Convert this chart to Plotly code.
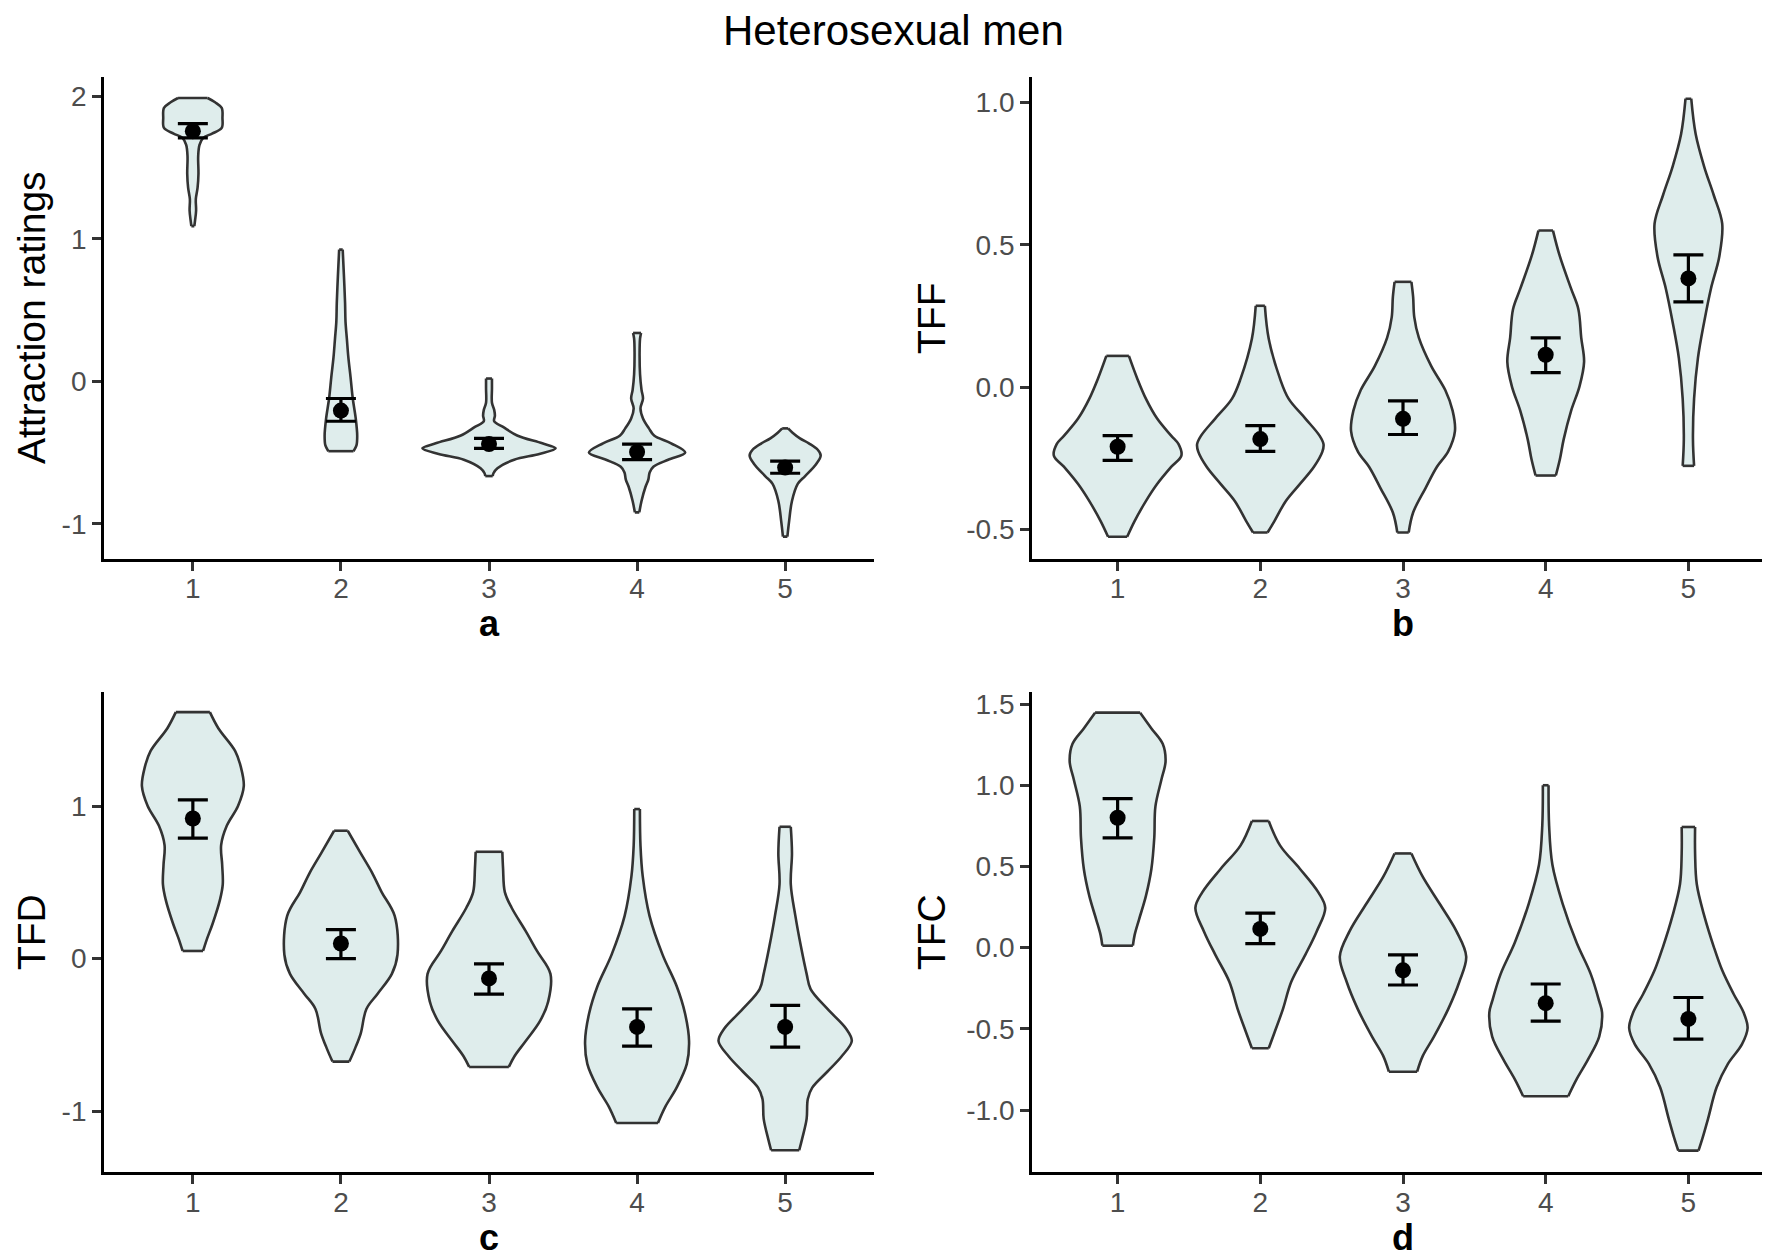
import plotly.graph_objects as go

# ---------------- data ----------------
CATS = [1, 2, 3, 4, 5]
CAT_LABELS = ["1", "2", "3", "4", "5"]

TITLE = "Heterosexual men"
PANEL_LETTERS = ["a", "b", "c", "d"]
Y_TITLES = ["Attraction ratings", "TFF", "TFD", "TFC"]

A_TICKS = [-1, 0, 1, 2]
A_TICKTEXT = ["-1", "0", "1", "2"]
B_TICKS = [-0.5, 0.0, 0.5, 1.0]
B_TICKTEXT = ["-0.5", "0.0", "0.5", "1.0"]
C_TICKS = [-1, 0, 1]
C_TICKTEXT = ["-1", "0", "1"]
D_TICKS = [-1.0, -0.5, 0.0, 0.5, 1.0, 1.5]
D_TICKTEXT = ["-1.0", "-0.5", "0.0", "0.5", "1.0", "1.5"]

# means and standard-error limits
A_MEAN = [1.757, -0.205, -0.44, -0.496, -0.605]
A_LO = [1.71, -0.28, -0.47, -0.55, -0.645]
A_HI = [1.81, -0.12, -0.40, -0.44, -0.56]

B_MEAN = [-0.209, -0.182, -0.111, 0.114, 0.382]
B_LO = [-0.257, -0.225, -0.166, 0.051, 0.30]
B_HI = [-0.17, -0.135, -0.048, 0.173, 0.465]

C_MEAN = [0.918, 0.099, -0.13, -0.448, -0.448]
C_LO = [0.79, 0.0, -0.233, -0.573, -0.58]
C_HI = [1.04, 0.19, -0.035, -0.33, -0.307]

D_MEAN = [0.80, 0.115, -0.14, -0.342, -0.439]
D_LO = [0.676, 0.025, -0.23, -0.452, -0.563]
D_HI = [0.918, 0.212, -0.044, -0.224, -0.307]

# violin density profiles: levels (top -> bottom) and half-widths (category units)
A_LEVELS = [
    [1.99, 1.96, 1.92, 1.85, 1.78, 1.74, 1.71, 1.66, 1.58, 1.46, 1.36, 1.28, 1.20, 1.13, 1.09],
    [0.925, 0.75, 0.55, 0.42, 0.30, 0.17, 0.03, -0.12, -0.26, -0.38, -0.45, -0.49],
    [0.02, -0.05, -0.15, -0.20, -0.24, -0.28, -0.32, -0.38, -0.435, -0.47, -0.51, -0.55, -0.61, -0.645, -0.665],
    [0.34, 0.30, 0.20, 0.05, -0.06, -0.12, -0.19, -0.26, -0.33, -0.38, -0.435, -0.50, -0.55, -0.60, -0.64, -0.69, -0.74, -0.84, -0.92],
    [-0.33, -0.36, -0.40, -0.435, -0.48, -0.52, -0.58, -0.665, -0.72, -0.84, -0.98, -1.09],
]
A_WIDTHS = [
    [0.10, 0.15, 0.195, 0.20, 0.195, 0.13, 0.07, 0.045, 0.036, 0.038, 0.032, 0.02, 0.022, 0.015, 0.01],
    [0.012, 0.02, 0.028, 0.031, 0.04, 0.05, 0.065, 0.08, 0.10, 0.11, 0.105, 0.085],
    [0.02, 0.02, 0.02, 0.035, 0.04, 0.035, 0.095, 0.19, 0.36, 0.45, 0.34, 0.17, 0.057, 0.03, 0.025],
    [0.027, 0.02, 0.017, 0.02, 0.03, 0.04, 0.023, 0.04, 0.08, 0.115, 0.23, 0.325, 0.21, 0.11, 0.085, 0.076, 0.057, 0.03, 0.015],
    [0.02, 0.05, 0.10, 0.16, 0.22, 0.24, 0.21, 0.135, 0.085, 0.046, 0.027, 0.015],
]

B_LEVELS = [
    [0.11, 0.03, -0.04, -0.11, -0.17, -0.20, -0.24, -0.28, -0.34, -0.40, -0.47, -0.525],
    [0.286, 0.17, 0.03, -0.04, -0.11, -0.17, -0.20, -0.226, -0.28, -0.34, -0.40, -0.47, -0.51],
    [0.37, 0.317, 0.246, 0.174, 0.074, -0.01, -0.083, -0.154, -0.226, -0.28, -0.354, -0.44, -0.51],
    [0.55, 0.46, 0.346, 0.274, 0.174, 0.089, 0.003, -0.083, -0.183, -0.254, -0.31],
    [1.013, 0.889, 0.774, 0.674, 0.574, 0.46, 0.346, 0.23, 0.103, -0.04, -0.183, -0.276],
]
B_WIDTHS = [
    [0.079, 0.138, 0.198, 0.277, 0.375, 0.427, 0.447, 0.375, 0.277, 0.198, 0.119, 0.067],
    [0.032, 0.059, 0.138, 0.198, 0.316, 0.415, 0.443, 0.435, 0.375, 0.277, 0.178, 0.099, 0.051],
    [0.059, 0.071, 0.079, 0.111, 0.198, 0.296, 0.348, 0.364, 0.316, 0.237, 0.158, 0.071, 0.04],
    [0.051, 0.099, 0.178, 0.229, 0.249, 0.269, 0.237, 0.178, 0.126, 0.099, 0.071],
    [0.02, 0.051, 0.111, 0.178, 0.237, 0.217, 0.158, 0.111, 0.067, 0.04, 0.032, 0.04],
]

C_LEVELS = [
    [1.615, 1.51, 1.36, 1.256, 1.13, 1.0, 0.87, 0.744, 0.615, 0.487, 0.385, 0.23, 0.128, 0.05],
    [0.838, 0.69, 0.564, 0.436, 0.28, 0.026, -0.1, -0.23, -0.33, -0.49, -0.59, -0.675],
    [0.70, 0.59, 0.436, 0.333, 0.18, 0.05, -0.1, -0.28, -0.41, -0.54, -0.64, -0.71],
    [0.98, 0.74, 0.54, 0.28, 0.026, -0.18, -0.36, -0.54, -0.69, -0.846, -0.97, -1.077],
    [0.864, 0.69, 0.487, 0.28, 0.077, -0.1, -0.2, -0.33, -0.46, -0.54, -0.64, -0.74, -0.846, -0.92, -1.05, -1.18, -1.256],
]
C_WIDTHS = [
    [0.115, 0.172, 0.286, 0.324, 0.344, 0.305, 0.229, 0.191, 0.198, 0.202, 0.183, 0.134, 0.095, 0.069],
    [0.046, 0.134, 0.21, 0.275, 0.363, 0.382, 0.344, 0.248, 0.172, 0.134, 0.095, 0.057],
    [0.09, 0.095, 0.107, 0.153, 0.248, 0.324, 0.415, 0.40, 0.344, 0.248, 0.172, 0.134],
    [0.019, 0.023, 0.038, 0.084, 0.172, 0.267, 0.324, 0.351, 0.336, 0.267, 0.191, 0.141],
    [0.038, 0.046, 0.038, 0.069, 0.107, 0.145, 0.172, 0.286, 0.412, 0.45, 0.382, 0.286, 0.183, 0.153, 0.145, 0.115, 0.095],
]

D_LEVELS = [
    [1.447, 1.35, 1.255, 1.147, 1.038, 0.87, 0.678, 0.486, 0.317, 0.173, 0.077, 0.012],
    [0.78, 0.63, 0.486, 0.34, 0.245, 0.10, -0.043, -0.21, -0.38, -0.524, -0.62],
    [0.58, 0.437, 0.27, 0.10, -0.055, -0.21, -0.38, -0.548, -0.668, -0.764],
    [1.0, 0.75, 0.51, 0.27, 0.03, -0.163, -0.33, -0.40, -0.548, -0.69, -0.81, -0.915],
    [0.743, 0.58, 0.39, 0.197, 0.005, -0.14, -0.284, -0.40, -0.495, -0.596, -0.716, -0.86, -1.053, -1.173, -1.25],
]
D_WIDTHS = [
    [0.158, 0.237, 0.316, 0.336, 0.308, 0.265, 0.257, 0.237, 0.198, 0.15, 0.119, 0.107],
    [0.059, 0.138, 0.277, 0.407, 0.455, 0.395, 0.316, 0.217, 0.158, 0.099, 0.059],
    [0.059, 0.138, 0.257, 0.375, 0.443, 0.395, 0.316, 0.217, 0.138, 0.099],
    [0.02, 0.024, 0.047, 0.119, 0.217, 0.316, 0.375, 0.395, 0.375, 0.296, 0.217, 0.158],
    [0.047, 0.047, 0.059, 0.111, 0.178, 0.237, 0.316, 0.387, 0.415, 0.375, 0.277, 0.198, 0.138, 0.099, 0.071],
]

# ---------------- style ----------------
FONT = "Liberation Sans, Arial, Helvetica, sans-serif"
FILL = "#DFEDEC"
OUTLINE = "#333333"
TICK_GREY = "#4D4D4D"

W, H = 1770, 1255
# panel boxes in pixels (left, right, top, bottom)
BOXES = [
    (96, 866, 66.5, 549),
    (1024, 1766, 66.5, 549),
    (96, 866, 682.5, 1164),
    (1024, 1766, 682.5, 1164),
]
Y_RANGES = [[-1.245, 2.135], [-0.602, 1.088], [-1.40, 1.748], [-1.383, 1.575]]

panels = [
    (A_LEVELS, A_WIDTHS, A_MEAN, A_LO, A_HI, A_TICKS, A_TICKTEXT),
    (B_LEVELS, B_WIDTHS, B_MEAN, B_LO, B_HI, B_TICKS, B_TICKTEXT),
    (C_LEVELS, C_WIDTHS, C_MEAN, C_LO, C_HI, C_TICKS, C_TICKTEXT),
    (D_LEVELS, D_WIDTHS, D_MEAN, D_LO, D_HI, D_TICKS, D_TICKTEXT),
]

fig = go.Figure()
layout = dict(
    width=W, height=H,
    margin=dict(l=0, r=0, t=0, b=0),
    paper_bgcolor="white", plot_bgcolor="white",
    showlegend=False,
    font=dict(family=FONT, color="black"),
)
annotations = []

LW = 2.6
for i, (levels, widths, mean, lo, hi, ticks, ticktext) in enumerate(panels):
    n = "" if i == 0 else str(i + 1)
    xa, ya = "x" + n, "y" + n
    left, right, top, bottom = BOXES[i]
    xdom = [left / W, right / W]
    ydom = [1 - bottom / H, 1 - top / H]

    for k, cat in enumerate(CATS):
        lv, wd = levels[k], widths[k]
        fig.add_trace(go.Scatter(
            x=[cat - w for w in wd], y=lv, mode="lines",
            line=dict(color=OUTLINE, width=LW, shape="spline", smoothing=1.0),
            xaxis=xa, yaxis=ya, hoverinfo="skip"))
        fig.add_trace(go.Scatter(
            x=[cat + w for w in wd], y=lv, mode="lines", fill="tonextx", fillcolor=FILL,
            line=dict(color=OUTLINE, width=LW, shape="spline", smoothing=1.0),
            xaxis=xa, yaxis=ya, hoverinfo="skip"))
        fig.add_trace(go.Scatter(
            x=[cat - wd[0], cat + wd[0], None, cat - wd[-1], cat + wd[-1]],
            y=[lv[0], lv[0], None, lv[-1], lv[-1]], mode="lines",
            line=dict(color=OUTLINE, width=LW),
            xaxis=xa, yaxis=ya, hoverinfo="skip"))

    fig.add_trace(go.Scatter(
        x=CATS, y=mean, mode="markers",
        marker=dict(color="black", size=16),
        error_y=dict(type="data", symmetric=False,
                     array=[h - m for h, m in zip(hi, mean)],
                     arrayminus=[m - l for m, l in zip(mean, lo)],
                     width=15, thickness=3.2, color="black"),
        xaxis=xa, yaxis=ya))

    axis_common = dict(
        showline=True, linecolor="black", linewidth=2.8,
        ticks="outside", ticklen=9, tickwidth=2.5, tickcolor="#333333",
        tickfont=dict(family=FONT, size=28, color=TICK_GREY),
        showgrid=False, zeroline=False, fixedrange=True,
    )
    layout["xaxis" + n] = dict(
        domain=xdom, range=[0.4, 5.6], tickvals=CATS, ticktext=CAT_LABELS,
        anchor=ya, ticklabelstandoff=-6, **axis_common)
    layout["yaxis" + n] = dict(
        domain=ydom, range=Y_RANGES[i], tickvals=ticks, ticktext=ticktext,
        anchor=xa, **axis_common)

    # x-axis title (bold letter)
    annotations.append(dict(
        text="<b>%s</b>" % PANEL_LETTERS[i], xref="paper", yref="paper",
        x=(left + right) / 2 / W, y=1 - (bottom + 65) / H,
        xanchor="center", yanchor="middle", showarrow=False,
        font=dict(family=FONT, size=36, color="black")))
    # y-axis title
    ytx = 23 if i in (0, 2) else 923
    annotations.append(dict(
        text=Y_TITLES[i], xref="paper", yref="paper",
        x=ytx / W, y=1 - (top + bottom) / 2 / H, textangle=-90,
        xanchor="center", yanchor="middle", showarrow=False,
        font=dict(family=FONT, size=39, color="black")))

annotations.append(dict(
    text=TITLE, xref="paper", yref="paper", x=0.5, y=1 - 20 / H,
    xanchor="center", yanchor="middle", showarrow=False,
    font=dict(family=FONT, size=42, color="black")))

layout["annotations"] = annotations
fig.update_layout(**layout)
fig.write_html("out.html")
